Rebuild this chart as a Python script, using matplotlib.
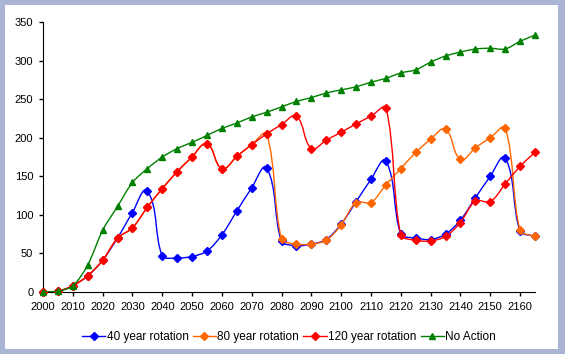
from matplotlib import pyplot as plt
from matplotlib.path import Path
from matplotlib.patches import PathPatch, Rectangle
from matplotlib.lines import Line2D
import numpy as np

plt.rcParams['font.family'] = ['Liberation Sans', 'DejaVu Sans']

years = list(range(2000, 2170, 5))

rot40 = [0, 1, 8, 21, 41, 70, 103, 131, 47, 44, 46, 53, 74, 105, 135, 161,
         66, 60, 62, 68, 88, 117, 146, 170, 75, 70, 68, 75, 93, 122, 150, 174,
         79, 72]
rot80 = [0, 1, 8, 21, 41, 70, 83, 110, 134, 156, 175, 192, 160, 176, 191, 205,
         69, 62, 62, 67, 87, 116, 116, 139, 160, 181, 198, 211, 172, 187, 200, 213,
         80, 72]
rot120 = [0, 1, 8, 21, 41, 70, 83, 110, 134, 156, 175, 192, 160, 176, 191, 205,
          217, 228, 186, 197, 207, 218, 228, 239, 74, 67, 66, 72, 90, 118, 117, 140,
          163, 181]
no_action = [0, 1, 8, 35, 80, 111, 142, 160, 175, 186, 194, 203, 212, 219, 227, 233,
             240, 247, 252, 258, 262, 266, 272, 277, 284, 288, 298, 306, 311, 315, 316, 315,
             325, 333]

labels = ["40 year rotation", "80 year rotation", "120 year rotation", "No Action"]
colors = ["#0000ff", "#ff6600", "#ff0000", "#008000"]
markers = ["D", "D", "D", "^"]
msizes = [3.8, 3.8, 3.8, 5]
series = [rot40, rot80, rot120, no_action]


def smooth_path(ax, xs, ys, k=0.3):
    # smoothed line like excel: bezier, tangent scaled by segment length (screen space)
    tr = ax.transData
    pts = tr.transform(np.column_stack([xs, ys]))
    n = len(pts)

    def unit(v):
        l = np.hypot(v[0], v[1])
        return v / l if l > 0 else v * 0

    verts = [pts[0]]
    codes = [Path.MOVETO]
    for i in range(n - 1):
        p0 = pts[i - 1] if i > 0 else pts[i]
        p1 = pts[i]
        p2 = pts[i + 1]
        p3 = pts[i + 2] if i + 2 < n else pts[i + 1]
        seg = np.hypot(*(p2 - p1))
        c1 = p1 + unit(p2 - p0) * seg * k
        c2 = p2 - unit(p3 - p1) * seg * k
        verts += [c1, c2, p2]
        codes += [Path.CURVE4] * 3
    verts = tr.inverted().transform(np.array(verts))
    return Path(verts, codes)


fig = plt.figure(figsize=(5.65, 3.54), dpi=100, facecolor="#aab4d4")
fig.patches.append(Rectangle((5 / 565, 5 / 354), 553 / 565, 344 / 354,
                             transform=fig.transFigure, facecolor="white",
                             edgecolor="none", zorder=-10))
ax = fig.add_axes([43 / 565, 62 / 354, 492 / 565, 270 / 354])
ax.set_facecolor("white")
ax.set_xlim(2000, 2165)
ax.set_ylim(0, 350)

handles = []
for i in range(4):
    ax.add_patch(PathPatch(smooth_path(ax, years, series[i]), facecolor="none",
                           edgecolor=colors[i], lw=1, zorder=2 + i))
    ax.plot(years, series[i], linestyle="none", marker=markers[i],
            markersize=msizes[i], color=colors[i], zorder=2 + i, clip_on=False)
    handles.append(Line2D([], [], color=colors[i], lw=1, marker=markers[i],
                          markersize=msizes[i]))

ax.set_xticks(range(2000, 2161, 10))
ax.set_yticks(range(0, 351, 50))
ax.spines["top"].set_visible(False)
ax.spines["right"].set_visible(False)
ax.tick_params(direction="out", length=3, width=1, labelsize=8, pad=4)

fig.legend(handles, labels, loc="center", bbox_to_anchor=(289 / 565, 17 / 354),
           ncol=4, frameon=False, fontsize=8.5, handlelength=2.0,
           handletextpad=0.1, columnspacing=0.35)

fig.savefig("out.png", dpi=100, facecolor=fig.get_facecolor())
